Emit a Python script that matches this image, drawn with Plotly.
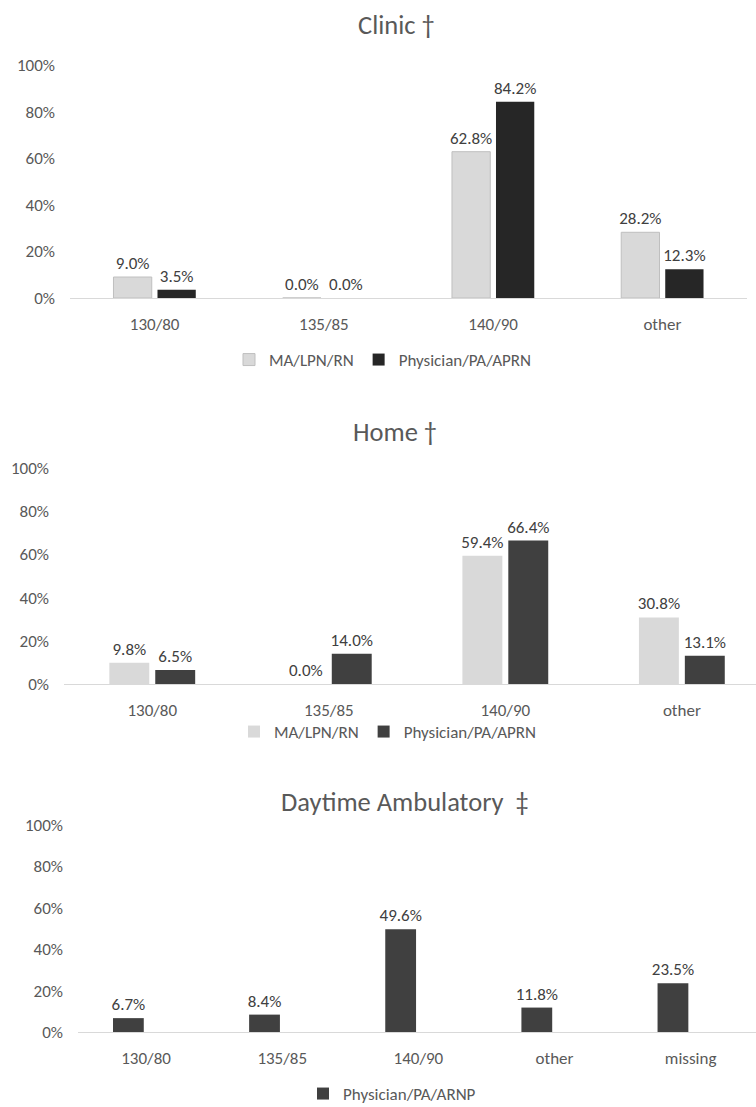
import plotly.graph_objects as go

FONT = "Carlito, Calibri, Lato, sans-serif"
W, H = 756, 1107

# data
cats4 = ["130/80", "135/85", "140/90", "other"]
cats5 = ["130/80", "135/85", "140/90", "other", "missing"]

clinic_ma = [9.0, 0.0, 62.8, 28.2]
clinic_phys = [3.5, 0.0, 84.2, 12.3]

home_ma = [9.8, 0.0, 59.4, 30.8]
home_phys = [6.5, 14.0, 66.4, 13.1]

amb_phys = [6.7, 8.4, 49.6, 11.8, 23.5]

y_ticks = [0, 20, 40, 60, 80, 100]
y_labels = ["0%", "20%", "40%", "60%", "80%", "100%"]

titles = ["Clinic \u2020", "Home \u2020", "Daytime Ambulatory  \u2021"]
ma_name = "MA/LPN/RN"
phys_name = "Physician/PA/APRN"
amb_name = "Physician/PA/ARNP"

SMALL = 17


def py(px):
    return 1 - px / H


def bar(x, y, name, color, n, legend, line=None, show=True):
    return go.Bar(
        x=x, y=y, name=name,
        xaxis="x" if n == 1 else f"x{n}", yaxis="y" if n == 1 else f"y{n}",
        marker=dict(color=color, line=dict(color=line or color, width=1 if line else 0)),
        texttemplate="%{y:.1f}%", textposition="outside", cliponaxis=False,
        constraintext="none",
        textfont=dict(family=FONT, size=SMALL, color="#404040"),
        legend=legend, showlegend=show,
    )


fig = go.Figure()
fig.add_trace(bar(cats4, clinic_ma, ma_name, "#d9d9d9", 1, "legend", line="#bfbfbf"))
fig.add_trace(bar(cats4, clinic_phys, phys_name, "#262626", 1, "legend"))
fig.add_trace(bar(cats4, home_ma, ma_name, "#d9d9d9", 2, "legend2"))
fig.add_trace(bar(cats4, home_phys, phys_name, "#404040", 2, "legend2"))
fig.add_trace(bar(cats5, amb_phys, amb_name, "#404040", 3, "legend3"))
# empty second series, as in the source chart
fig.add_trace(bar(cats5, [None] * 5, "", "#ffffff", 3, "legend3", show=False))

# panel geometry in pixels: (x left, x right, y top(100%), y bottom(0%), xrange max)
panels = [
    (70, 747, 65, 298, 3.5),
    (64, 756, 468, 684, 3.42),
    (78, 756, 825, 1032, 4.48),
]
tick_font = dict(family=FONT, size=SMALL, color="#595959")
for i, (x0, x1, yt, yb, xmax) in enumerate(panels, start=1):
    sfx = "" if i == 1 else str(i)
    fig.update_layout({
        f"xaxis{sfx}": dict(
            domain=[x0 / W, x1 / W], anchor=f"y{sfx}", range=[-0.5, xmax],
            showline=True, linecolor="#d9d9d9", linewidth=1.3,
            showgrid=False, zeroline=False, ticks="",
            tickfont=tick_font, ticklabelstandoff=10, fixedrange=True,
        ),
        f"yaxis{sfx}": dict(
            domain=[py(yb), py(yt)], anchor=f"x{sfx}", range=[0, 100],
            tickvals=y_ticks, ticktext=y_labels,
            showgrid=False, zeroline=False, showline=False, ticks="",
            tickfont=tick_font, ticklabelstandoff=14, fixedrange=True,
        ),
    })

title_pos = [(396, 25), (395, 432), (405, 802)]
for t, (tx, ty) in zip(titles, title_pos):
    fig.add_annotation(text=t, x=tx / W, y=py(ty), xref="paper", yref="paper",
                       showarrow=False, xanchor="center", yanchor="middle",
                       font=dict(family=FONT, size=26.5, color="#595959"))

leg_font = dict(family=FONT, size=SMALL, color="#595959")
for name, (lx, ly) in zip(["legend", "legend2", "legend3"], [(383, 360), (388, 732), (392, 1094)]):
    fig.update_layout({name: dict(
        orientation="h", x=lx / W, y=py(ly), xanchor="center", yanchor="middle",
        font=leg_font, itemwidth=30, bgcolor="rgba(0,0,0,0)", traceorder="normal",
    )})

fig.update_layout(
    width=W, height=H,
    margin=dict(l=0, r=0, t=0, b=0, autoexpand=False),
    barmode="group", bargap=0.48, bargroupgap=0.13,
    plot_bgcolor="white", paper_bgcolor="white",
    font=dict(family=FONT, color="#595959"),
)

fig.write_html("out.html", config={"displayModeBar": False},
               post_script="document.body.style.margin='0px';")
